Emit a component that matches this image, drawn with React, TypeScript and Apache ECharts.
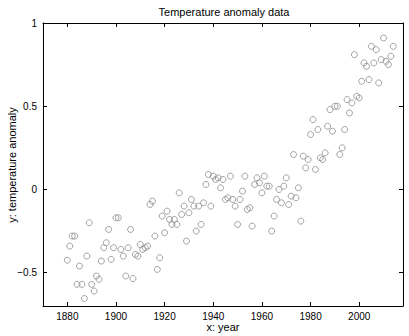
import React, { useEffect, useRef } from "react";
import * as echarts from "echarts";

const years: number[] = [];
for (let y = 1880; y <= 2014; y++) years.push(y);

const anomaly: number[] = [
  -0.425, -0.34, -0.28, -0.28, -0.57, -0.46, -0.57, -0.655, -0.40, -0.20,
  -0.57, -0.61, -0.52, -0.54, -0.43, -0.35, -0.32, -0.24, -0.42, -0.35,
  -0.17, -0.17, -0.36, -0.40, -0.52, -0.35, -0.24, -0.535, -0.39, -0.40,
  -0.33, -0.36, -0.35, -0.34, -0.09, -0.07, -0.28, -0.48, -0.41, -0.16,
  -0.26, -0.13, -0.18, -0.21, -0.18, -0.21, -0.02, -0.15, -0.10, -0.31,
  -0.14, -0.06, -0.10, -0.25, -0.10, -0.21, -0.08, 0.03, 0.09, -0.10,
  0.08, 0.06, 0.07, 0.01, 0.06, -0.06, -0.05, 0.08, -0.06, -0.10,
  -0.21, -0.06, -0.01, 0.08, -0.12, -0.11, -0.22, 0.03, 0.07, 0.04,
  -0.02, 0.08, 0.02, 0.02, -0.25, -0.16, -0.06, 0.00, -0.08, 0.02,
  0.07, -0.09, -0.04, 0.21, -0.05, 0.01, -0.19, 0.20, 0.13, 0.18,
  0.33, 0.42, 0.12, 0.36, 0.19, 0.18, 0.22, 0.38, 0.48, 0.35,
  0.50, 0.50, 0.21, 0.25, 0.36, 0.54, 0.46, 0.52, 0.81, 0.56,
  0.55, 0.65, 0.76, 0.74, 0.66, 0.86, 0.76, 0.84, 0.64, 0.78,
  0.91, 0.77, 0.75, 0.80, 0.86,
];

const xTicks = [1880, 1900, 1920, 1940, 1960, 1980, 2000];
const yTicks = [-0.5, 0, 0.5, 1];

const FONT = "Liberation Sans, Arial, Helvetica, sans-serif";

export default function App() {
  const ref = useRef<HTMLDivElement>(null);
  useEffect(() => {
    document.body.style.margin = "0";
    const chart = echarts.init(ref.current!, undefined, { renderer: "svg" });
    const fmtY = (v: number) => (v < 0 ? "\u2212" + String(Math.abs(v)) : String(v));
    const axisLine = { show: true, onZero: false, lineStyle: { color: "#000", width: 1 } };
    const tick = (vals: number[]) => ({
      show: true,
      inside: true,
      length: 4,
      customValues: vals,
      lineStyle: { color: "#000" },
    });
    const txt = (text: string) => ({
      text,
      fontFamily: FONT,
      fontSize: 11,
      fill: "#000",
      align: "center",
      verticalAlign: "middle",
    });
    chart.setOption({
      animation: false,
      backgroundColor: "#fff",
      graphic: [
        { type: "text", x: 224, y: 12, style: txt("Temperature anomaly data") },
        { type: "text", x: 223, y: 327, style: txt("x: year") },
        { type: "text", x: 12, y: 165, rotation: Math.PI / 2, style: txt("y: temperature anomaly") },
      ],
      grid: {
        left: 43,
        right: 6,
        top: 23,
        bottom: 30,
        containLabel: false,
        outerBoundsMode: "none",
      },
      xAxis: [
        {
          type: "value",
          position: "bottom",
          min: 1870,
          max: 2018,
          axisLine,
          axisTick: tick(xTicks),
          axisLabel: {
            customValues: xTicks,
            formatter: (v: number) => String(v),
            fontFamily: FONT,
            fontSize: 10,
            color: "#000",
            margin: 5,
          },
          splitLine: { show: false },
        },
        {
          type: "value",
          position: "top",
          min: 1870,
          max: 2018,
          axisLine,
          axisTick: tick(xTicks),
          axisLabel: { show: false },
          splitLine: { show: false },
        },
      ],
      yAxis: [
        {
          type: "value",
          position: "left",
          min: -0.7,
          max: 1,
          axisLine,
          axisTick: tick(yTicks),
          axisLabel: {
            customValues: yTicks,
            formatter: fmtY,
            fontFamily: FONT,
            fontSize: 10,
            color: "#000",
            margin: 6,
          },
          splitLine: { show: false },
        },
        {
          type: "value",
          position: "right",
          min: -0.7,
          max: 1,
          axisLine,
          axisTick: tick(yTicks),
          axisLabel: { show: false },
          splitLine: { show: false },
        },
      ],
      series: [
        {
          type: "scatter",
          xAxisIndex: 0,
          yAxisIndex: 0,
          symbol: "circle",
          symbolSize: 6,
          itemStyle: { color: "rgba(255,255,255,0)", borderColor: "#8c8c8c", borderWidth: 1 },
          data: years.map((y, i) => [y, anomaly[i]]),
        },
      ],
    });
    return () => chart.dispose();
  }, []);
  return <div ref={ref} style={{ width: 409, height: 336 }} />;
}
